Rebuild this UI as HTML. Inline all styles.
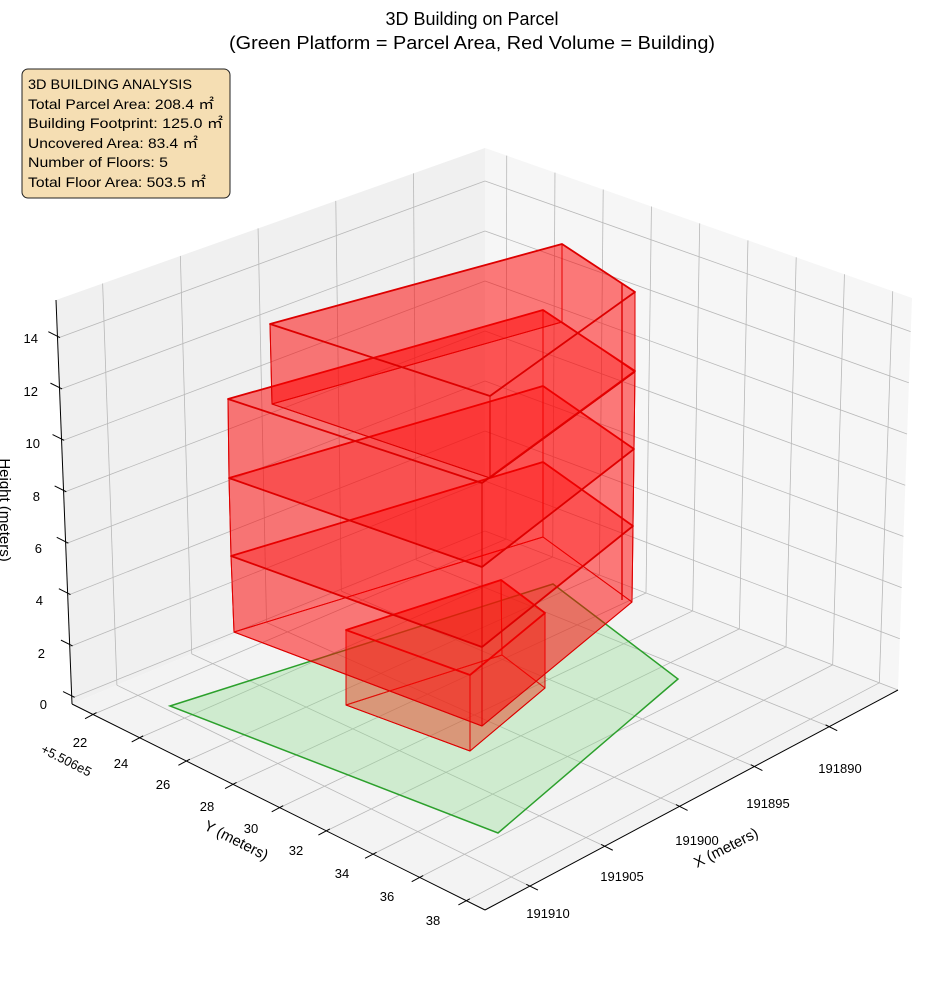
<!DOCTYPE html>
<html><head><meta charset="utf-8"><style>
html,body{margin:0;padding:0;background:#fff;}
svg{display:block;font-family:"Liberation Sans",sans-serif;}
</style></head><body>
<svg id="s" width="944" height="992" viewBox="0 0 944 992" xmlns="http://www.w3.org/2000/svg">
<g id="panes"></g>
<g id="grid" stroke="#b8b8b8" stroke-width="0.8" fill="none"></g>
<g id="axes" stroke="#000" stroke-width="1" fill="none"></g>
<g id="green">
<polygon points="170,706 553,584 678,679 498,833" fill="rgba(140,220,140,0.35)" stroke="#2ca02c" stroke-width="1.5"/>
</g>
<g id="bld" stroke="#dd0000" stroke-width="1.4" stroke-linejoin="round"></g>
<g font-size="14" fill="#000">
<text x="472" y="25" text-anchor="middle" font-size="18">3D Building on Parcel</text>
<text x="472" y="49" text-anchor="middle" font-size="18" textLength="486" lengthAdjust="spacingAndGlyphs">(Green Platform = Parcel Area, Red Volume = Building)</text>
<rect x="22" y="69" width="208" height="129" rx="6" fill="#f5deb3" stroke="#222" stroke-width="1"/>
<text x="28" y="89" textLength="164" lengthAdjust="spacingAndGlyphs">3D BUILDING ANALYSIS</text>
<text x="28" y="109" textLength="186" lengthAdjust="spacingAndGlyphs">Total Parcel Area: 208.4 ㎡</text>
<text x="28" y="128" textLength="195" lengthAdjust="spacingAndGlyphs">Building Footprint: 125.0 ㎡</text>
<text x="28" y="148" textLength="170" lengthAdjust="spacingAndGlyphs">Uncovered Area: 83.4 ㎡</text>
<text x="28" y="167" textLength="140" lengthAdjust="spacingAndGlyphs">Number of Floors: 5</text>
<text x="28" y="187" textLength="178" lengthAdjust="spacingAndGlyphs">Total Floor Area: 503.5 ㎡</text>
</g>
<g font-size="13" fill="#000" id="labels">
<text x="38" y="343" text-anchor="end">14</text>
<text x="38" y="396" text-anchor="end">12</text>
<text x="40" y="448" text-anchor="end">10</text>
<text x="40" y="501" text-anchor="end">8</text>
<text x="42" y="553" text-anchor="end">6</text>
<text x="43" y="605" text-anchor="end">4</text>
<text x="45" y="658" text-anchor="end">2</text>
<text x="47" y="709" text-anchor="end">0</text>
<text x="80" y="747" text-anchor="middle">22</text>
<text x="121" y="768" text-anchor="middle">24</text>
<text x="163" y="789" text-anchor="middle">26</text>
<text x="207" y="811" text-anchor="middle">28</text>
<text x="251" y="833" text-anchor="middle">30</text>
<text x="296" y="855" text-anchor="middle">32</text>
<text x="342" y="878" text-anchor="middle">34</text>
<text x="387" y="901" text-anchor="middle">36</text>
<text x="433" y="925" text-anchor="middle">38</text>
<text x="840" y="773" text-anchor="middle">191890</text>
<text x="768" y="808" text-anchor="middle">191895</text>
<text x="697" y="845" text-anchor="middle">191900</text>
<text x="622" y="881" text-anchor="middle">191905</text>
<text x="548" y="918" text-anchor="middle">191910</text>
<text transform="translate(40,752) rotate(27)">+5.506e5</text>
<text font-size="15" transform="translate(203,829) rotate(27)">Y (meters)</text>
<text font-size="15" transform="translate(697,868) rotate(-27)">X (meters)</text>
<text font-size="15" text-anchor="middle" transform="translate(0,510) rotate(90)">Height (meters)</text>
</g>
</svg>
<script>
var NS="http://www.w3.org/2000/svg";
function el(p,t,a){var e=document.createElementNS(NS,t);for(var k in a)e.setAttribute(k,a[k]);document.getElementById(p).appendChild(e);return e;}
function L(p,a,b){el(p,"line",{x1:a[0],y1:a[1],x2:b[0],y2:b[1]});}
var Lf=[72,704],F=[485,910],Rf=[898,690],Bk=[485,531];
var TL=[56,300],TB=[485,148],TR=[912,298];
function P(u,v){return[(1-u)*(1-v)*Lf[0]+u*(1-v)*F[0]+u*v*Rf[0]+(1-u)*v*Bk[0],(1-u)*(1-v)*Lf[1]+u*(1-v)*F[1]+u*v*Rf[1]+(1-u)*v*Bk[1]];}
function lerp(a,b,t){return[a[0]+(b[0]-a[0])*t,a[1]+(b[1]-a[1])*t];}
function pts(a){return a.map(function(p){return p[0]+","+p[1]}).join(" ");}
el("panes","polygon",{points:pts([TL,TB,Bk,Lf]),fill:"#f0f0f0"});
el("panes","polygon",{points:pts([TB,TR,Rf,Bk]),fill:"#f6f6f6"});
el("panes","polygon",{points:pts([Lf,Bk,Rf,F]),fill:"#f3f3f3"});
var Y0=21.1,Y1=38.8,X0=191913,X1=191885.4;
function zl(z){return[72-z*1.05,698-25.7*z];}
function zb(z){return[485,531-25*z];}
function zr(z){return[898+z*0.9,690-25.6*z];}
for(var Y=22;Y<=38;Y+=2){var u=(Y-Y0)/(Y1-Y0);L("grid",P(u,0),P(u,1));L("grid",P(u,1),lerp(TB,TR,u));
 var p=P(u,0);L("axes",[p[0]+0.883*4,p[1]-0.47*4],[p[0]-0.883*9,p[1]+0.47*9]);}
for(var X=191890;X<=191910;X+=5){var v=(X0-X)/(X0-X1);L("grid",P(0,v),P(1,v));L("grid",P(0,v),lerp(TL,TB,v));
 var p=P(1,v);L("axes",[p[0]-0.896*4,p[1]-0.447*4],[p[0]+0.896*9,p[1]+0.447*9]);}
for(var z=0;z<=14;z+=2){L("grid",zl(z),zb(z));L("grid",zb(z),zr(z));
 var p=zl(z);L("axes",[p[0]+0.896*3,p[1]+0.447*3-2],[p[0]-0.896*10,p[1]-0.447*10-2]);}
L("axes",TL,Lf);L("axes",Lf,F);L("axes",F,Rf);
var fill="rgba(255,0,0,0.3)";
function poly(a,f,sw,nofill){var e=el("bld","polygon",{points:pts(a),fill:nofill?"none":(f||fill)});if(sw)e.setAttribute("stroke-width",sw);}
function prism(top,bot,f,skipBot,skipTop){poly(bot,f,1,skipBot);for(var i=0;i<4;i++){var j=(i+1)%4;poly([top[i],top[j],bot[j],bot[i]],f,1);}poly(top,f,1.8,skipTop);}
// small ground box
prism([[346,630],[501,580],[545,613],[470,675]],[[346,705],[502,655],[545,688],[470,751]],"rgba(230,60,30,0.28)");
// Q floors
var FL=[[234,632],[231,556],[229,478],[228,399]],BQ=[[543,537],[543,462],[543,386],[543,310]],RQ=[[632,602],[633,526],[634,449],[635,371]],FQ=[[482,726],[482,647],[482,567],[482,483]];
for(var k=0;k<3;k++){prism([FL[k+1],BQ[k+1],RQ[k+1],FQ[k+1]],[FL[k],BQ[k],RQ[k],FQ[k]],null,k>0,false);}
// top slab
prism([[270,324],[562,244],[635,292],[490,396]],[[272,404],[562,322],[635,372],[490,478]],null,true,false);
L("bld",[622,283],[622,600]);
</script>
</body></html>
